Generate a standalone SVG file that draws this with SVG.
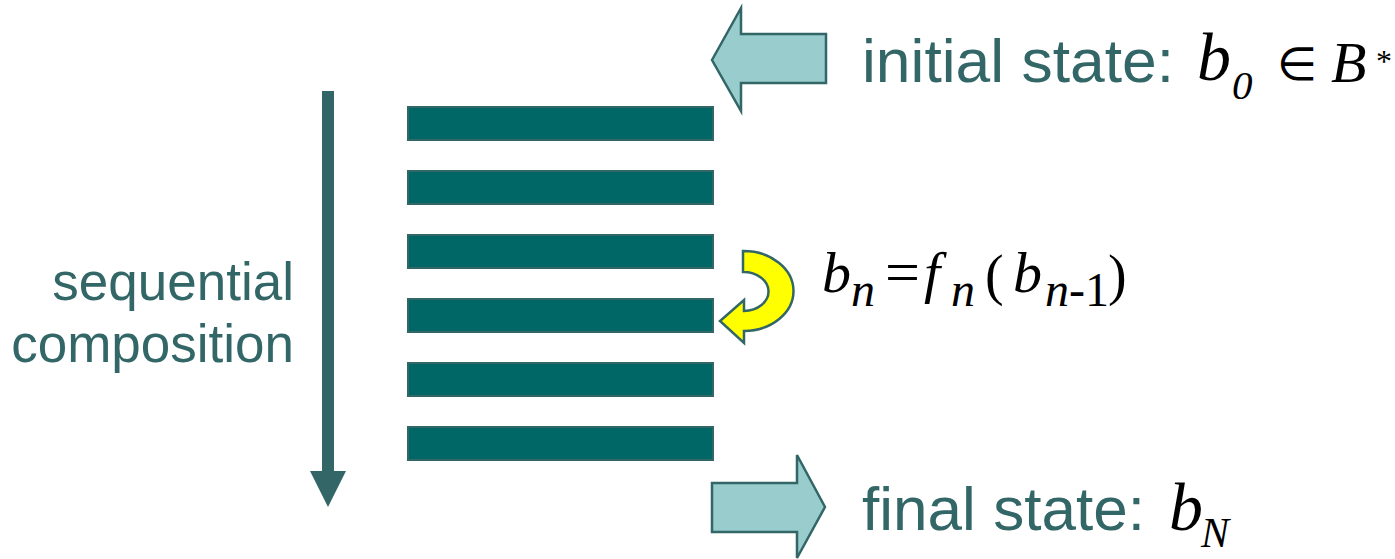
<svg xmlns="http://www.w3.org/2000/svg" width="1395" height="559" viewBox="0 0 1395 559">
<style>
.bar{fill:#006666;stroke:#336666;stroke-width:2}
.blk{fill:#99CCCC;stroke:#336666;stroke-width:2.5;stroke-linejoin:miter}
.lbl{font-family:"Liberation Sans",Arial,sans-serif;fill:#336666}
.m{font-family:"Liberation Serif","Times New Roman",serif;fill:#000000}
.i{font-style:italic}
</style>
<rect width="1395" height="559" fill="#ffffff"/>
<g id="connectors">
  <g id="seq-arrow">
    <rect x="322" y="91" width="12" height="381" fill="#336666"/>
    <polygon points="310,471 346,471 328,507" fill="#336666"/>
  </g>
  <polygon id="initial-arrow" class="blk" points="712,60 741,8 741,34 826,34 826,83 741,83 741,111"/>
  <polygon id="final-arrow" class="blk" points="712,483 797,483 797,455 825,507 797,558 797,532 712,532"/>
  <path id="loop-arrow" d="M743,251 A50,40 0 0 1 744,331 L744,343 L720,321 L744,300 L744,311 A25,19.5 0 0 0 743,272 Z" fill="#FFFF00" stroke="#336666" stroke-width="2.5"/>
</g>
<g id="bars">
  <rect id="bar1" class="bar" x="408" y="107" width="305" height="33"/>
  <rect id="bar2" class="bar" x="408" y="171" width="305" height="33"/>
  <rect id="bar3" class="bar" x="408" y="235" width="305" height="33"/>
  <rect id="bar4" class="bar" x="408" y="299" width="305" height="33"/>
  <rect id="bar5" class="bar" x="408" y="363" width="305" height="33"/>
  <rect id="bar6" class="bar" x="408" y="427" width="305" height="33"/>
</g>
<g id="label-seq">
  <text class="lbl" x="294" y="300" font-size="53" text-anchor="end">sequential</text>
  <text class="lbl" x="294" y="362" font-size="53" text-anchor="end">composition</text>
</g>
<g id="label-initial">
  <text class="lbl" x="862" y="82" font-size="62" textLength="312" lengthAdjust="spacingAndGlyphs">initial state:</text>
  <text class="m i" x="1197" y="80" font-size="68">b</text>
  <text class="m i" x="1232" y="99" font-size="41">0</text>
  <text class="m" x="1277" y="80" font-size="46">∈</text>
  <text class="m i" x="1331" y="82" font-size="58">B</text>
  <text class="m" x="1376" y="72" font-size="32">*</text>
</g>
<g id="label-final">
  <text class="lbl" x="862" y="530" font-size="62" textLength="283" lengthAdjust="spacingAndGlyphs">final state:</text>
  <text class="m i" x="1169" y="530" font-size="68">b</text>
  <text class="m i" x="1201" y="547" font-size="42">N</text>
</g>
<g id="label-eq">
  <text class="m i" x="822" y="292" font-size="58">b</text>
  <text class="m i" x="851" y="306" font-size="48">n</text>
  <text class="m" x="885" y="293" font-size="62">=</text>
  <text class="m i" x="924" y="292" font-size="58">f</text>
  <text class="m i" x="951" y="306" font-size="48">n</text>
  <text class="m" x="985" y="294" font-size="56">(</text>
  <text class="m i" x="1013" y="292" font-size="58">b</text>
  <text class="m" x="1045" y="306" font-size="48"><tspan class="i">n</tspan>-1</text>
  <text class="m" x="1108" y="294" font-size="56">)</text>
</g>
</svg>
